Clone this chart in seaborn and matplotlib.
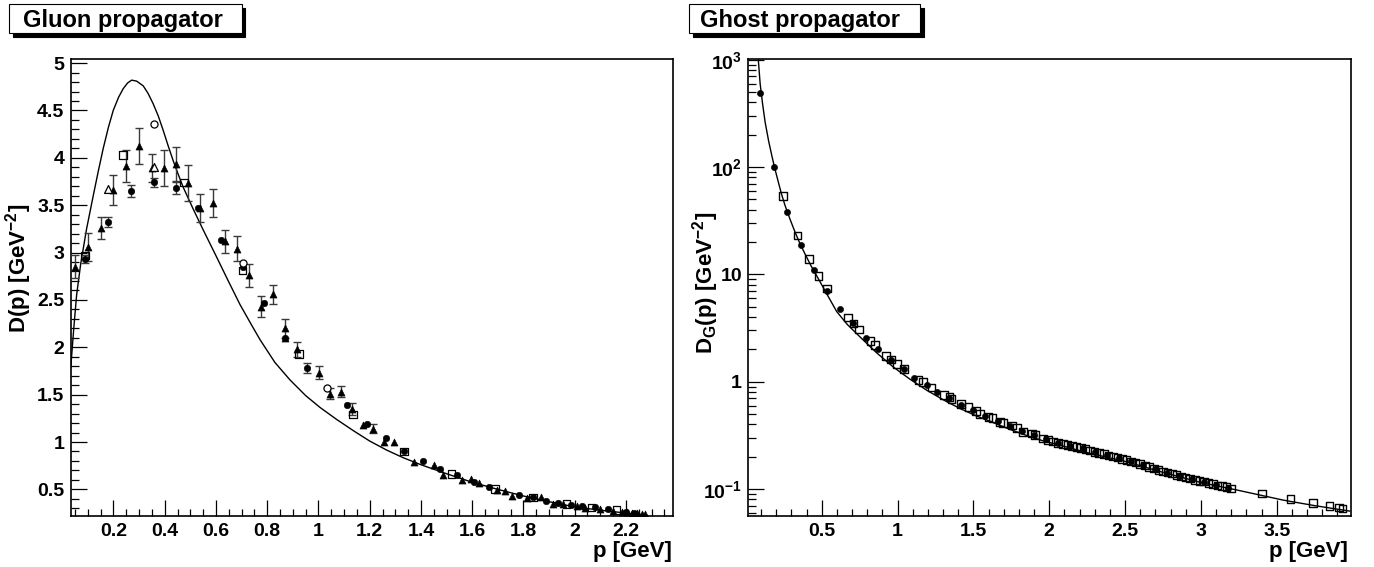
import numpy as np
import matplotlib
matplotlib.use("Agg")
import matplotlib.pyplot as plt
import seaborn as sns
from matplotlib.ticker import MultipleLocator, FuncFormatter, LogLocator, NullFormatter
from matplotlib.patches import Rectangle

# ---------------- data: gluon propagator ----------------
gl_curve_x = [0.033, 0.045, 0.056, 0.072, 0.095, 0.121, 0.14, 0.16, 0.18, 0.199, 0.22, 0.238, 0.255,
              0.271, 0.29, 0.316, 0.335, 0.355, 0.375, 0.394, 0.413, 0.433, 0.452, 0.472, 0.511,
              0.55, 0.603, 0.648, 0.694, 0.74, 0.772, 0.83, 0.889, 0.95, 1.006, 1.07, 1.136,
              1.2, 1.266, 1.33, 1.40, 1.50, 1.60, 1.70, 1.80, 1.90, 2.00, 2.10, 2.20, 2.28]
gl_curve_y = [1.78, 2.2, 2.55, 2.88, 3.25, 3.6, 3.85, 4.1, 4.32, 4.5, 4.64, 4.73, 4.79,
              4.82, 4.81, 4.76, 4.68, 4.57, 4.44, 4.29, 4.13, 3.97, 3.83, 3.69, 3.46,
              3.24, 2.95, 2.70, 2.45, 2.23, 2.08, 1.84, 1.655, 1.49, 1.365, 1.24, 1.12,
              1.01, 0.915, 0.835, 0.76, 0.665, 0.575, 0.50, 0.43, 0.37, 0.315, 0.28, 0.25, 0.232]

# filled triangles with error bars
gl_tri_err_x = [0.050, 0.102, 0.150, 0.199, 0.249, 0.300, 0.349, 0.396, 0.444, 0.490, 0.538, 0.590,
                0.635, 0.683, 0.730, 0.776, 0.822, 0.869, 0.915, 1.002, 1.045, 1.088, 1.132, 1.214]
gl_tri_err_y = [2.85, 3.06, 3.26, 3.66, 3.91, 4.12, 3.89, 3.89, 3.93, 3.73, 3.47, 3.52,
                3.12, 3.04, 2.76, 2.43, 2.56, 2.20, 1.98, 1.73, 1.51, 1.53, 1.35, 1.14]
gl_tri_err_e = [0.12, 0.15, 0.12, 0.16, 0.17, 0.19, 0.15, 0.19, 0.18, 0.19, 0.15, 0.15,
                0.12, 0.13, 0.12, 0.11, 0.10, 0.10, 0.08, 0.07, 0.06, 0.06, 0.06, 0.05]

# filled triangles without error bars
gl_tri_x = [0.869, 1.175, 1.256, 1.296, 1.374, 1.451, 1.487, 1.559, 1.594, 1.626, 1.695, 1.728,
            1.754, 1.813, 1.867, 1.916, 1.955, 2.008, 2.040, 2.099, 2.150, 2.183, 2.205, 2.225,
            2.245, 2.262, 2.274]
gl_tri_y = [2.10, 1.18, 1.00, 1.00, 0.79, 0.76, 0.65, 0.60, 0.61, 0.57, 0.49, 0.48,
            0.43, 0.41, 0.42, 0.35, 0.345, 0.324, 0.306, 0.295, 0.274, 0.265, 0.26, 0.255,
            0.25, 0.245, 0.24]

# filled circles
gl_circ_x = [0.089, 0.180, 0.268, 0.358, 0.444, 0.531, 0.618, 0.704, 0.787, 0.869, 0.954, 1.032,
             1.110, 1.188, 1.263, 1.335, 1.407, 1.474, 1.539, 1.607, 1.665, 1.784, 1.838, 1.890,
             1.936, 1.984, 2.027, 2.079, 2.131, 2.200, 2.230]
gl_circ_y = [2.93, 3.32, 3.65, 3.74, 3.68, 3.47, 3.13, 2.85, 2.47, 2.10, 1.78, 1.57,
             1.39, 1.19, 1.04, 0.90, 0.80, 0.72, 0.65, 0.58, 0.52, 0.44, 0.415, 0.38,
             0.36, 0.334, 0.324, 0.31, 0.289, 0.26, 0.25]
gl_circ_e = [0.04, 0.05, 0.06, 0.05, 0.06, 0.0, 0.0, 0.0, 0.0, 0.0, 0.05, 0.0,
             0.0, 0.0, 0.0, 0.0, 0.0, 0.0, 0.0, 0.0, 0.0, 0.0, 0.0, 0.0,
             0.0, 0.0, 0.0, 0.0, 0.0, 0.0, 0.0]

# open squares
gl_sq_x = [0.089, 0.238, 0.475, 0.704, 0.924, 1.136, 1.335, 1.520, 1.689, 1.838, 1.968, 2.066, 2.164]
gl_sq_y = [2.97, 4.03, 3.74, 2.81, 1.93, 1.29, 0.90, 0.66, 0.503, 0.415, 0.345, 0.31, 0.281]

# open triangles
gl_otri_x = [0.180, 0.359]
gl_otri_y = [3.67, 3.90]

# open circles
gl_ocirc_x = [0.358, 0.704, 1.032]
gl_ocirc_y = [4.36, 2.89, 1.57]

# ---------------- data: ghost propagator ----------------
gh_curve_x = [0.082, 0.094, 0.11, 0.127, 0.15, 0.171, 0.19, 0.214, 0.235, 0.258, 0.29, 0.324, 0.355,
              0.39, 0.43, 0.478, 0.533, 0.599, 0.67, 0.753, 0.86, 0.972, 1.08, 1.192, 1.30,
              1.412, 1.52, 1.632, 1.74, 1.852, 1.96, 2.071, 2.25, 2.5, 2.75, 3.0, 3.25,
              3.543, 3.75, 3.983]
gh_curve_y = [1000, 600, 390, 262, 175, 128, 98, 72.5, 56, 44, 33, 24.8, 19.6,
              15.5, 12.0, 9.1, 6.6, 4.5, 3.4, 2.61, 1.87, 1.37, 1.06, 0.834, 0.68,
              0.562, 0.48, 0.415, 0.36, 0.315, 0.281, 0.256, 0.218, 0.181, 0.143, 0.115, 0.097,
              0.0788, 0.070, 0.0622]

gh_circ_x = [0.094, 0.186, 0.272, 0.362, 0.448, 0.533, 0.621, 0.709, 0.792, 0.874, 0.957, 1.043,
             1.111, 1.192, 1.262, 1.342, 1.42, 1.50, 1.58, 1.66, 1.74, 1.82, 1.90, 1.98,
             2.06, 2.14, 2.22, 2.30, 2.38, 2.46, 2.54, 2.62, 2.70, 2.78, 2.86, 2.94,
             3.02, 3.10, 3.18]
gh_circ_y = [491, 100, 38.1, 18.9, 10.9, 7.0, 4.73, 3.49, 2.58, 2.0, 1.61, 1.31,
             1.09, 0.93, 0.80, 0.71, 0.61, 0.54, 0.48, 0.43, 0.39, 0.345, 0.318, 0.29,
             0.268, 0.252, 0.239, 0.222, 0.207, 0.194, 0.181, 0.167, 0.154, 0.142, 0.132, 0.124,
             0.117, 0.109, 0.103]

gh_sq_x = [0.243, 0.340, 0.417, 0.478, 0.533, 0.672, 0.709, 0.744, 0.823, 0.852, 0.924, 0.957,
           0.995, 1.043, 1.137, 1.166, 1.225, 1.307, 1.342, 1.357, 1.417, 1.467, 1.517, 1.544,
           1.599, 1.625, 1.676, 1.697, 1.753, 1.786, 1.829, 1.885, 1.907, 1.961, 1.994, 2.027,
           2.06, 2.09, 2.12, 2.15, 2.18, 2.21, 2.24, 2.27, 2.30, 2.33, 2.36, 2.39, 2.42, 2.45,
           2.48, 2.51, 2.54, 2.57, 2.60, 2.63, 2.66, 2.69, 2.72, 2.75, 2.78, 2.81, 2.84, 2.87,
           2.90, 2.93, 2.96, 2.99, 3.02, 3.05, 3.08, 3.11, 3.14, 3.17, 3.20,
           3.405, 3.592, 3.741, 3.847, 3.912, 3.935]
gh_sq_y = [53.7, 23.1, 14.0, 9.6, 7.4, 3.96, 3.49, 3.07, 2.40, 2.19, 1.73, 1.61,
           1.46, 1.31, 1.04, 0.995, 0.88, 0.748, 0.72, 0.69, 0.617, 0.58, 0.53, 0.50,
           0.47, 0.46, 0.423, 0.41, 0.39, 0.37, 0.341, 0.33, 0.317, 0.295, 0.288, 0.278,
           0.268, 0.262, 0.256, 0.251, 0.246, 0.241, 0.236, 0.229, 0.222, 0.216, 0.211, 0.206,
           0.201, 0.196, 0.191, 0.186, 0.181, 0.176, 0.171, 0.165, 0.160, 0.155, 0.151, 0.146,
           0.142, 0.139, 0.135, 0.131, 0.128, 0.125, 0.122, 0.119, 0.117, 0.114, 0.111, 0.108,
           0.106, 0.104, 0.101,
           0.091, 0.0805, 0.0744, 0.0697, 0.067, 0.066]

# ---------------- style ----------------
sns.set_theme(style="ticks")
plt.rcParams.update({
    "font.family": ["Liberation Sans", "DejaVu Sans"],
    "font.weight": "bold",
    "mathtext.fontset": "custom",
    "mathtext.rm": "Liberation Sans:bold",
    "mathtext.it": "Liberation Sans:bold",
    "mathtext.bf": "Liberation Sans:bold",
    "axes.edgecolor": "black",
    "axes.linewidth": 1.2,
    "xtick.color": "black",
    "ytick.color": "black",
    "text.color": "black",
    "axes.labelcolor": "black",
})

W, H = 1374, 567
fig = plt.figure(figsize=(W / 100, H / 100), dpi=100)
fig.patch.set_facecolor("white")


def ax_rect(l, t, r, b):
    return [l / W, 1 - b / H, (r - l) / W, (b - t) / H]


axL = fig.add_axes(ax_rect(70.7, 59.3, 673.3, 515.7))
axR = fig.add_axes(ax_rect(748.3, 59.3, 1350.7, 515.7))

TICK_FS = 14


def style_axis(ax):
    ax.set_facecolor("white")
    ax.tick_params(which="both", direction="in", top=False, right=False,
                   bottom=True, left=True, width=0.9, labelsize=TICK_FS)
    ax.tick_params(which="major", length=11.5)
    ax.tick_params(which="minor", length=5.4)
    ax.tick_params(axis="x", which="both", pad=5)
    ax.tick_params(axis="y", which="both", pad=4.5)
    for s in ax.spines.values():
        s.set_visible(True)
        s.set_color("black")
        s.set_linewidth(1.2)


fmt_g = FuncFormatter(lambda v, p: "%g" % round(v, 3))

# ---------------- left panel ----------------
ax = axL
sns.lineplot(x=gl_curve_x, y=gl_curve_y, ax=ax, color="black", linewidth=1.0,
             sort=False, estimator=None, zorder=2)
ax.errorbar(gl_tri_err_x, gl_tri_err_y, yerr=gl_tri_err_e, fmt="none", ecolor="#3a3a3a",
            elinewidth=1.0, capsize=3.2, capthick=1.0, zorder=3)
ce = np.array(gl_circ_e)
m = ce > 0
ax.errorbar(np.array(gl_circ_x)[m], np.array(gl_circ_y)[m], yerr=ce[m], fmt="none",
            ecolor="#3a3a3a", elinewidth=1.0, capsize=3.2, capthick=1.0, zorder=3)
sns.scatterplot(x=gl_tri_err_x, y=gl_tri_err_y, ax=ax, marker="^", s=26, color="black",
                edgecolor="black", linewidth=0.4, zorder=4)
sns.scatterplot(x=gl_tri_x, y=gl_tri_y, ax=ax, marker="^", s=26, color="black",
                edgecolor="black", linewidth=0.4, zorder=4)
sns.scatterplot(x=gl_circ_x, y=gl_circ_y, ax=ax, marker="o", s=22, color="black",
                edgecolor="black", linewidth=0.4, zorder=4)
sns.scatterplot(x=gl_sq_x, y=gl_sq_y, ax=ax, marker="s", s=30, color="black",
                facecolor="none", edgecolor="black", linewidth=0.9, zorder=5)
sns.scatterplot(x=gl_otri_x, y=gl_otri_y, ax=ax, marker="^", s=32, color="black",
                facecolor="white", edgecolor="black", linewidth=0.9, zorder=5)
sns.scatterplot(x=gl_ocirc_x, y=gl_ocirc_y, ax=ax, marker="o", s=26, color="black",
                facecolor="white", edgecolor="black", linewidth=0.9, zorder=5)
ax.set_xlim(0.033, 2.385)
ax.set_ylim(0.222, 5.04)
ax.xaxis.set_major_locator(MultipleLocator(0.2))
ax.xaxis.set_minor_locator(MultipleLocator(0.05))
ax.yaxis.set_major_locator(MultipleLocator(0.5))
ax.yaxis.set_minor_locator(MultipleLocator(0.1))
ax.xaxis.set_major_formatter(fmt_g)
ax.yaxis.set_major_formatter(fmt_g)
ax.set_xlabel("")
ax.set_ylabel("")
style_axis(ax)

# ---------------- right panel ----------------
ax = axR
ax.set_yscale("log")
sns.lineplot(x=gh_curve_x, y=gh_curve_y, ax=ax, color="black", linewidth=1.0,
             sort=False, estimator=None, zorder=2)
sns.scatterplot(x=gh_circ_x, y=gh_circ_y, ax=ax, marker="o", s=20, color="black",
                edgecolor="black", linewidth=0.4, zorder=4)
sns.scatterplot(x=gh_sq_x, y=gh_sq_y, ax=ax, marker="s", s=30, color="black",
                facecolor="none", edgecolor="black", linewidth=1.0, zorder=5)
ax.set_xlim(0.016, 3.988)
ax.set_ylim(0.0564, 1010)
ax.xaxis.set_major_locator(MultipleLocator(0.5))
ax.xaxis.set_minor_locator(MultipleLocator(0.1))
ax.xaxis.set_major_formatter(fmt_g)
ax.yaxis.set_major_locator(LogLocator(base=10, numticks=20))
ax.yaxis.set_minor_locator(LogLocator(base=10, subs=np.arange(2, 10), numticks=40))
ax.yaxis.set_minor_formatter(NullFormatter())


def log_fmt(v, p):
    e = int(round(np.log10(v)))
    if e == 0:
        return "1"
    if e == 1:
        return "10"
    return r"$10^{%d}$" % e


ax.yaxis.set_major_formatter(FuncFormatter(log_fmt))
ax.set_xlabel("")
ax.set_ylabel("")
style_axis(ax)

# ---------------- axis titles ----------------
LAB_FS = 16
fig.text(671.5 / W, 1 - 556.7 / H, "p [GeV]", ha="right", va="baseline", fontsize=LAB_FS,
         fontweight="bold")
fig.text(1347.5 / W, 1 - 556.7 / H, "p [GeV]", ha="right", va="baseline", fontsize=LAB_FS,
         fontweight="bold")
fig.text(19 / W, 1 - 268 / H, r"D(p) [GeV$^{-2}$]", rotation=90, ha="center", va="center",
         fontsize=LAB_FS, fontweight="bold")
fig.text(706 / W, 1 - 283 / H, r"D$_{G}$(p) [GeV$^{-2}$]", rotation=90, ha="center",
         va="center", fontsize=LAB_FS, fontweight="bold")


# ---------------- title boxes ----------------
def title_box(l, t, r, b, text_x, text):
    sh = 3.6
    fig.add_artist(Rectangle(((l + sh) / W, 1 - (b + sh) / H), (r - l) / W, (b - t) / H,
                             transform=fig.transFigure, facecolor="black", edgecolor="black",
                             linewidth=0.8, zorder=10))
    fig.add_artist(Rectangle((l / W, 1 - b / H), (r - l) / W, (b - t) / H,
                             transform=fig.transFigure, facecolor="white", edgecolor="black",
                             linewidth=0.8, zorder=11))
    fig.text(text_x / W, 1 - 26.5 / H, text, ha="left", va="baseline", fontsize=17,
             fontweight="bold", zorder=12)


title_box(9.3, 4, 241.7, 33, 23, "Gluon propagator")
title_box(689, 4, 920, 33, 700, "Ghost propagator")

fig.savefig("out.png", dpi=100, facecolor="white")
